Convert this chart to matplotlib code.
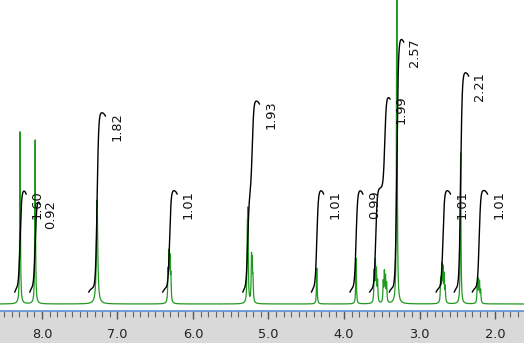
import matplotlib
matplotlib.use("Agg")
import matplotlib.pyplot as plt
import numpy as np
from matplotlib.ticker import MultipleLocator, FormatStrFormatter

# peaks: shift (ppm), height (px above baseline), half width (ppm)
peak_ppm = [8.290, 8.090, 7.270,
            6.330, 6.318, 6.305, 6.293,
            5.280, 5.272, 5.225, 5.215, 5.205,
            4.360, 3.840,
            3.600, 3.585, 3.570, 3.555,
            3.480, 3.465, 3.450, 3.435,
            3.300,
            2.720, 2.705, 2.690, 2.675, 2.660,
            2.455,
            2.235, 2.220, 2.205, 2.190]
peak_height = [173, 164, 104,
               28, 45, 40, 25,
               60, 79, 42, 35, 20,
               36, 46,
               30, 39, 30, 20,
               20, 29, 24, 18,
               380,
               22, 35, 32, 26, 15,
               151,
               18, 22, 20, 12]
peak_width = [0.005, 0.005, 0.010] + [0.005] * 30

# integral regions: left edge, right edge, step centres, step rises, label
int_lo = [8.36, 8.16, 7.38, 6.40, 5.34, 4.43, 3.92, 3.66, 3.40, 2.78, 2.54, 2.30]
int_hi = [8.21, 8.03, 7.16, 6.21, 5.12, 4.27, 3.75, 3.39, 3.21, 2.59, 2.35, 2.10]
int_centres = [[8.29], [8.09], [7.27], [6.31], [5.275, 5.215], [4.36], [3.84],
               [3.58, 3.46], [3.30], [2.69], [2.455], [2.21]]
int_rises = [[98], [88], [176], [98], [95, 93], [98], [98],
             [100, 93], [250], [98], [216], [98]]
int_labels = ["1.60", "0.92", "1.82", "1.01", "1.93", "1.01", "0.99",
              "1.99", "2.57", "1.01", "2.21", "1.01"]
int_base = 16

x_left, x_right = 8.556, 1.616

ppm = np.linspace(x_right, x_left, 8000)
spec = np.zeros_like(ppm)
for c, h, g in zip(peak_ppm, peak_height, peak_width):
    spec += h * g**2 / ((ppm - c) ** 2 + g**2)

fig = plt.figure(figsize=(5.24, 3.43), dpi=100, facecolor="#d9d9d9")
ax = fig.add_axes([0, 32 / 343, 1, 311 / 343])
ax.set_facecolor("white")
ax.plot(ppm, spec, color="#1f9a1f", lw=0.9)


def step(x, c, s=0.01):
    return 1.0 / (1.0 + np.exp(-(c - x) / s))


for lo, hi, cs, rs, lab in zip(int_lo, int_hi, int_centres, int_rises, int_labels):
    xs = np.linspace(lo, hi, 400)
    ys = np.zeros_like(xs)
    for c, r in zip(cs, rs):
        s = (step(xs, c) - step(lo, c)) / (step(hi, c) - step(lo, c))
        ys += r * s
    t = (lo - xs) / (lo - hi)
    ys += int_base - 4 * (2 * t - 1) ** 4
    ax.plot(xs, ys, color="black", lw=1.0)
    ax.text(hi - 0.15, int_base + sum(rs), lab, rotation=90, ha="center",
            va="top", fontsize=9.3, color="#111111")

ax.set_xlim(x_left, x_right)
ax.set_ylim(-7, 304)
ax.yaxis.set_visible(False)
for side in ["top", "left", "right"]:
    ax.spines[side].set_visible(False)
ax.spines["bottom"].set_color("#5b8fd9")
ax.spines["bottom"].set_linewidth(1.2)
ax.xaxis.set_major_locator(MultipleLocator(1.0))
ax.xaxis.set_minor_locator(MultipleLocator(0.1))
ax.xaxis.set_major_formatter(FormatStrFormatter("%.1f"))
ax.tick_params(axis="x", which="major", direction="out", length=6, width=1,
               color="#555555", labelsize=9.3, labelcolor="#222222", pad=6)
ax.tick_params(axis="x", which="minor", direction="out", length=4, width=0.8,
               color="#666666")

fig.savefig("out.png", dpi=100, facecolor=fig.get_facecolor())
